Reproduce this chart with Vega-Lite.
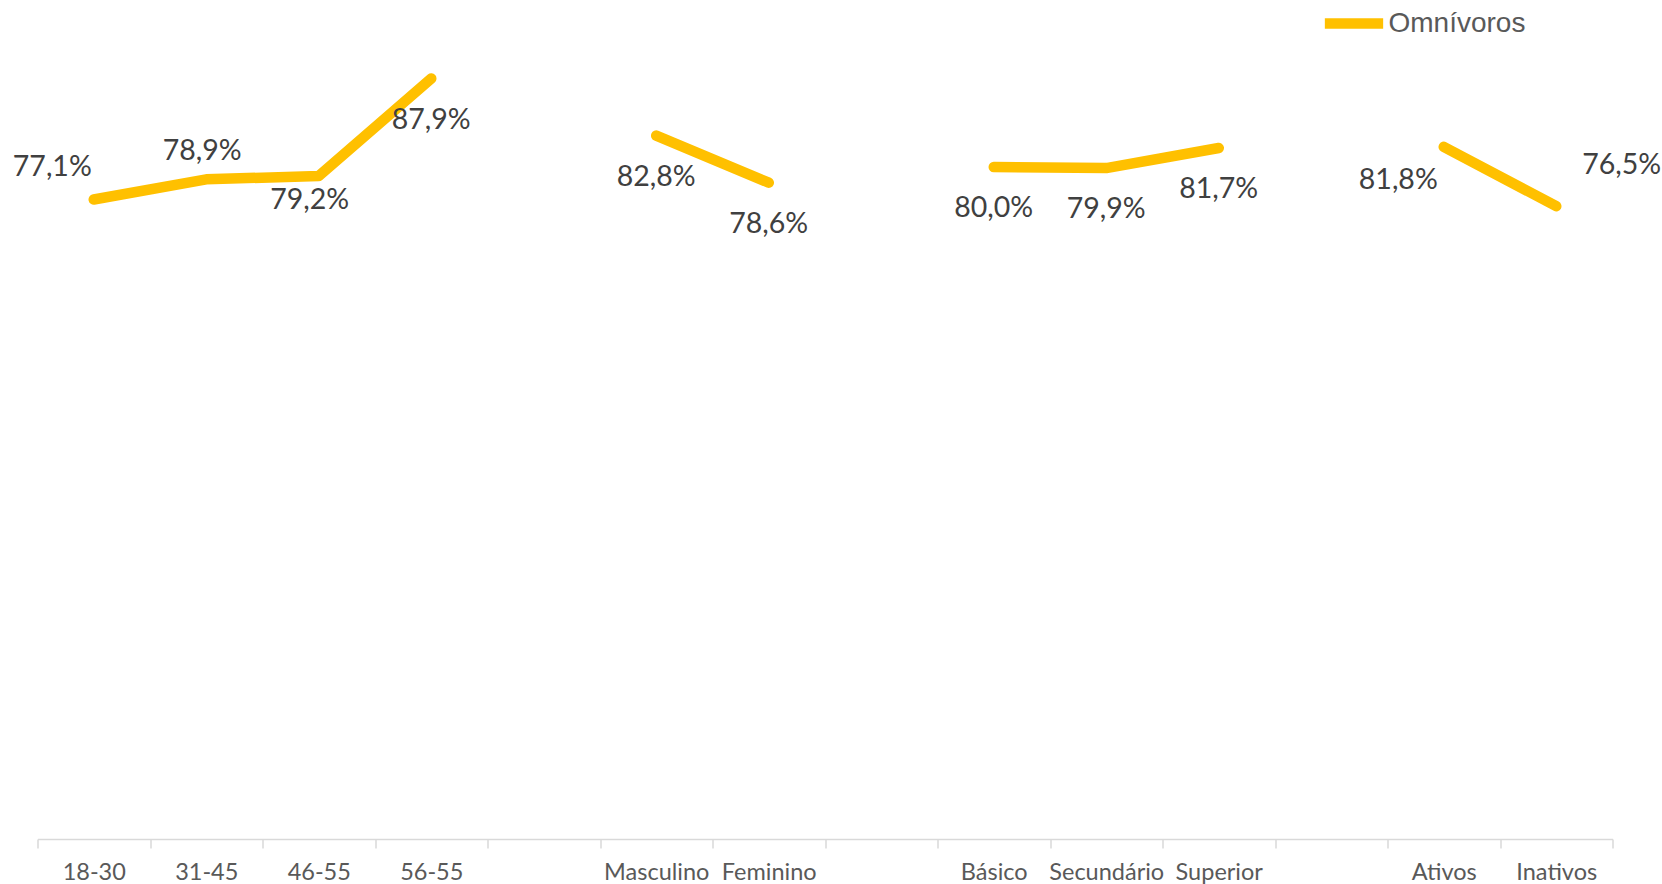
{
  "$schema": "https://vega.github.io/schema/vega-lite/v6.json",
  "width": 1575,
  "height": 784,
  "autosize": "none",
  "padding": {"left": 37.5, "top": 55, "right": 49.5, "bottom": 45},
  "background": "white",
  "config": {
    "view": {"stroke": null},
    "locale": {"number": {"decimal": ",", "thousands": ".", "grouping": [3], "currency": ["", " €"]}}
  },
  "data": {
    "values": [
      {"cat": "18-30", "grupo": "Idade", "serie": "Omnívoros", "v": 0.771},
      {"cat": "31-45", "grupo": "Idade", "serie": "Omnívoros", "v": 0.789},
      {"cat": "46-55", "grupo": "Idade", "serie": "Omnívoros", "v": 0.792},
      {"cat": "56-55", "grupo": "Idade", "serie": "Omnívoros", "v": 0.879},
      {"cat": "Masculino", "grupo": "Género", "serie": "Omnívoros", "v": 0.828},
      {"cat": "Feminino", "grupo": "Género", "serie": "Omnívoros", "v": 0.786},
      {"cat": "Básico", "grupo": "Escolaridade", "serie": "Omnívoros", "v": 0.800},
      {"cat": "Secundário", "grupo": "Escolaridade", "serie": "Omnívoros", "v": 0.799},
      {"cat": "Superior", "grupo": "Escolaridade", "serie": "Omnívoros", "v": 0.817},
      {"cat": "Ativos", "grupo": "Situação", "serie": "Omnívoros", "v": 0.818},
      {"cat": "Inativos", "grupo": "Situação", "serie": "Omnívoros", "v": 0.765}
    ]
  },
  "encoding": {
    "x": {
      "field": "cat",
      "type": "nominal",
      "sort": null,
      "scale": {
        "type": "band",
        "domain": ["18-30", "31-45", "46-55", "56-55", " ", "Masculino", "Feminino", "  ", "Básico", "Secundário", "Superior", "   ", "Ativos", "Inativos"],
        "paddingInner": 0,
        "paddingOuter": 0
      },
      "axis": {
        "title": null,
        "tickBand": "extent",
        "labelAngle": 0,
        "labelOverlap": false,
        "domainColor": "#d9d9d9",
        "domainWidth": 1.5,
        "tickColor": "#d9d9d9",
        "tickWidth": 1.5,
        "tickSize": 9,
        "labelPadding": 12,
        "labelFont": "Lato",
        "labelFontSize": 23.5,
        "labelColor": "#595959",
        "labelBaseline": "top"
      }
    },
    "y": {
      "field": "v",
      "type": "quantitative",
      "scale": {"domain": [0.2, 0.9], "nice": false, "zero": false},
      "axis": null
    }
  },
  "layer": [
    {
      "mark": {"type": "line", "strokeWidth": 10.5, "strokeCap": "round", "strokeJoin": "round"},
      "encoding": {
        "detail": {"field": "grupo"},
        "color": {
          "field": "serie",
          "type": "nominal",
          "scale": {"range": ["#FFC000"]},
          "legend": {
            "title": null,
            "orient": "none",
            "legendX": 1282,
            "legendY": -66,
            "symbolType": "stroke",
            "symbolSize": 3400,
            "symbolStrokeWidth": 10.5,
            "symbolStrokeColor": "#FFC000",
            "labelFont": "Liberation Sans",
            "labelFontSize": 28,
            "labelColor": "#595959",
            "labelOffset": 0
          }
        }
      }
    },
    {
      "transform": [{"filter": {"field": "cat", "oneOf": ["18-30"]}}],
      "mark": {"type": "text", "font": "Lato", "fontSize": 28.5, "color": "#404040", "align": "right", "baseline": "middle", "dx": -2, "dy": -32},
      "encoding": {"text": {"field": "v", "type": "quantitative", "format": ".1%"}}
    },
    {
      "transform": [{"filter": {"field": "cat", "oneOf": ["31-45"]}}],
      "mark": {"type": "text", "font": "Lato", "fontSize": 28.5, "color": "#404040", "align": "center", "baseline": "middle", "dx": -4, "dy": -28},
      "encoding": {"text": {"field": "v", "type": "quantitative", "format": ".1%"}}
    },
    {
      "transform": [{"filter": {"field": "cat", "oneOf": ["46-55"]}}],
      "mark": {"type": "text", "font": "Lato", "fontSize": 28.5, "color": "#404040", "align": "center", "baseline": "middle", "dx": -9, "dy": 24},
      "encoding": {"text": {"field": "v", "type": "quantitative", "format": ".1%"}}
    },
    {
      "transform": [{"filter": {"field": "cat", "oneOf": ["56-55", "Masculino", "Feminino", "Básico", "Secundário", "Superior"]}}],
      "mark": {"type": "text", "font": "Lato", "fontSize": 28.5, "color": "#404040", "align": "center", "baseline": "middle", "dx": 0, "dy": 41},
      "encoding": {"text": {"field": "v", "type": "quantitative", "format": ".1%"}}
    },
    {
      "transform": [{"filter": {"field": "cat", "oneOf": ["Ativos"]}}],
      "mark": {"type": "text", "font": "Lato", "fontSize": 28.5, "color": "#404040", "align": "right", "baseline": "middle", "dx": -6, "dy": 33},
      "encoding": {"text": {"field": "v", "type": "quantitative", "format": ".1%"}}
    },
    {
      "transform": [{"filter": {"field": "cat", "oneOf": ["Inativos"]}}],
      "mark": {"type": "text", "font": "Lato", "fontSize": 28.5, "color": "#404040", "align": "left", "baseline": "middle", "dx": 26, "dy": -41},
      "encoding": {"text": {"field": "v", "type": "quantitative", "format": ".1%"}}
    }
  ]
}
